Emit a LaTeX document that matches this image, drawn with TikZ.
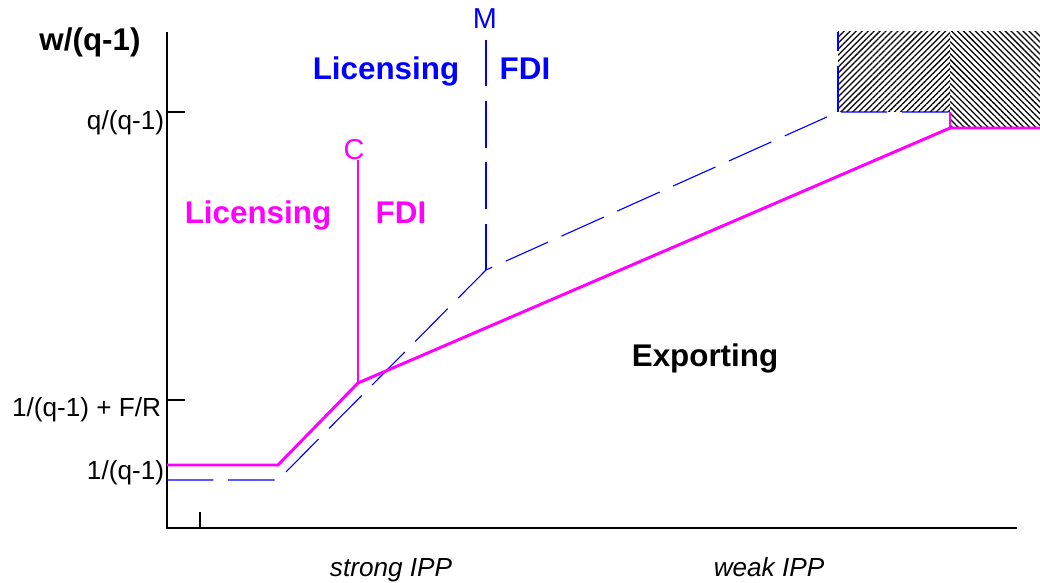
\documentclass[tikz,border=0pt]{standalone}
\usepackage{fontspec}
\setmainfont{Liberation Sans}
\usetikzlibrary{patterns}
\usetikzlibrary{patterns.meta}
\definecolor{magline}{RGB}{255,0,255}
\definecolor{blueline}{RGB}{0,0,255}
\tikzset{
  axisline/.style={black,line width=1.4pt},
  compline/.style={magline,line width=2.1pt,line join=miter},
  monoline/.style={blueline,line width=0.8pt,dash pattern=on 33pt off 10.5pt},
  bigtext/.style={font=\fontsize{22.3}{26}\selectfont\bfseries},
  smalltext/.style={font=\fontsize{18.6}{22}\selectfont},
  marktext/.style={font=\fontsize{20.5}{24}\selectfont},
}
\begin{document}
\begin{tikzpicture}[x=0.025cm,y=-0.025cm]
\useasboundingbox (0,0) rectangle (1040,583);
% hatched corner
\fill[pattern={Lines[angle=45,distance=3pt,line width=0.9pt]}] (838,32) rectangle (950,112);
\fill[pattern={Lines[angle=-45,distance=3pt,line width=0.9pt]}] (950,32) rectangle (1040,128);

% axes
\draw[axisline] (167,32) -- (167,528) -- (1017,528);
\draw[axisline] (200,512) -- (200,528);
\draw[axisline] (167,112) -- (185,112);
\draw[axisline] (167,400) -- (185,400);
\node[bigtext] (ylab) at (90,42) {w/(q-1)};
\node[smalltext,anchor=east] (tq) at (169,123) {q/(q-1)};
\node[smalltext,anchor=east] (tf) at (166,410) {1/(q-1) + F/R};
\node[smalltext,anchor=east] (tone) at (169,473) {1/(q-1)};

% monopoly boundary
\coordinate (m0) at (167,480);
\coordinate (m1) at (278,480);
\coordinate (m2) at (486,270);
\coordinate (m3) at (838,112);
\coordinate (m4) at (950,112);
\draw[monoline] (m0) -- (m1) -- (m2) -- (m3) -- (m4);
\draw[monoline] (m2) -- (486,35);
\draw[monoline] (m3) -- (838,32);
\node[marktext,text=blueline,anchor=base] (mlab) at (485,29) {M};
\node[bigtext,text=blueline,anchor=base] (mlic) at (386,80) {Licensing};
\node[bigtext,text=blueline,anchor=base] (mfdi) at (525,80) {FDI};

% competition boundary
\coordinate (c0) at (167,465);
\coordinate (c1) at (278,465);
\coordinate (c2) at (358,383);
\coordinate (c3) at (950,128);
\coordinate (c4) at (1040,128);
\draw[compline] (c0) -- (c1) -- (c2) -- (c3) -- (c4);
\draw[compline] (c2) -- (358,160);
\draw[compline] (c3) -- (950,112);
\node[marktext,text=magline,anchor=base] (clab) at (354,160) {C};
\node[bigtext,text=magline,anchor=base] (clic) at (258,224) {Licensing};
\node[bigtext,text=magline,anchor=base] (cfdi) at (401,224) {FDI};

\node[bigtext,anchor=base] (exp) at (705,366) {Exporting};
\node[smalltext,font=\fontsize{18.6}{22}\selectfont\itshape,anchor=base] (sipp) at (391,576) {strong IPP};
\node[smalltext,font=\fontsize{18.6}{22}\selectfont\itshape,anchor=base] (wipp) at (769,576) {weak IPP};
\end{tikzpicture}
\end{document}
